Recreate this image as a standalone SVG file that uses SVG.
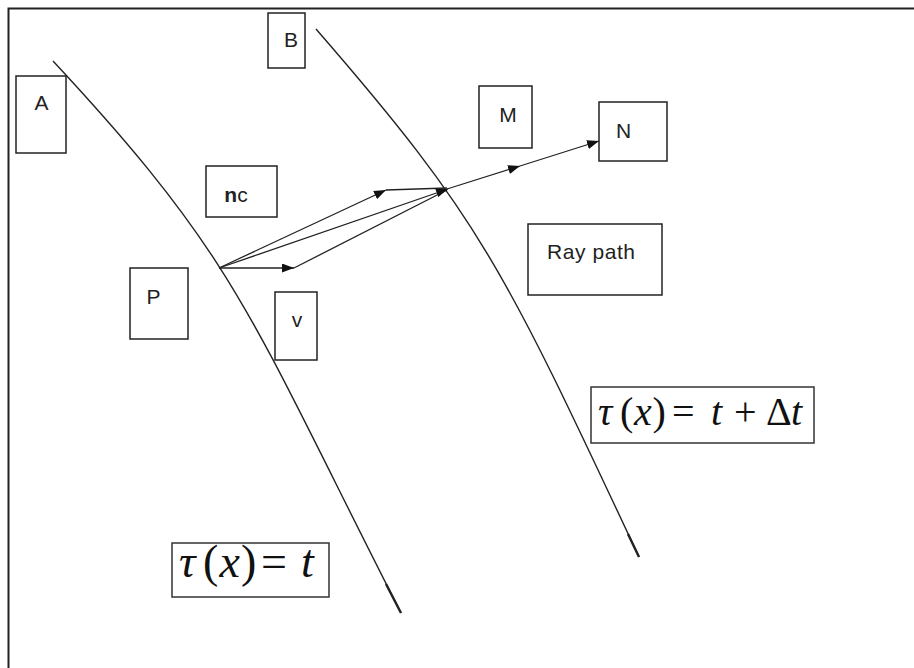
<svg xmlns="http://www.w3.org/2000/svg" width="914" height="668" viewBox="0 0 914 668">
<defs>
<style>
.box{fill:#fff;stroke:#222;stroke-width:1.5}
.lbl{font-family:"Liberation Sans",Arial,sans-serif;font-size:21px;fill:#222;text-anchor:middle}
.curve{fill:none;stroke:#222;stroke-width:1.4}
.ray{fill:none;stroke:#222;stroke-width:1.3}
.m{font-family:"Liberation Serif","Times New Roman",serif;fill:#111}
.i{font-style:italic}
</style>
<marker id="ah" viewBox="0 0 12 9" refX="12" refY="4.5" markerWidth="12" markerHeight="9" markerUnits="userSpaceOnUse" orient="auto">
<path d="M0,0 L12,4.5 L0,9 z" fill="#111"/>
</marker>
</defs>
<rect width="914" height="668" fill="#fff"/>
<path d="M8.5,668 V8.5 H914" fill="none" stroke="#222" stroke-width="2"/>

<g id="wavefronts">
<path class="curve" d="M53,61 C239,261 248,313 401,613"/>
<path d="M386,584 L401,613" fill="none" stroke="#222" stroke-width="2.4"/>
<path class="curve" d="M316,29 C481,219 503,267 639,557"/>
<path d="M628,534 L639,557" fill="none" stroke="#222" stroke-width="2.4"/>
</g>

<g id="connectors">
<path class="ray" d="M219,268 L386,190" marker-end="url(#ah)"/>
<path class="ray" d="M386,190 L447,188"/>
<path class="ray" d="M219,268 L294,268" marker-end="url(#ah)"/>
<path class="ray" d="M294,268 L447,190"/>
<path class="ray" d="M219,268 L448,189" marker-end="url(#ah)"/>
<path class="ray" d="M447,189 L520,166" marker-end="url(#ah)"/>
<path class="ray" d="M520,166 L599,141" marker-end="url(#ah)"/>
</g>

<g id="A"><rect class="box" x="16" y="76" width="50" height="77"/><text class="lbl" x="41.5" y="110">A</text></g>
<g id="B"><rect class="box" x="268" y="13" width="37" height="55"/><text class="lbl" x="291" y="47">B</text></g>
<g id="nc"><rect class="box" x="206" y="166" width="71" height="51"/><text class="lbl" x="236" y="202"><tspan font-weight="bold">n</tspan>c</text></g>
<g id="P"><rect class="box" x="130" y="268" width="58" height="71"/><text class="lbl" x="153.5" y="304">P</text></g>
<g id="v"><rect class="box" x="275" y="292" width="42" height="68"/><text class="lbl" x="297" y="327">v</text></g>
<g id="M"><rect class="box" x="479" y="86" width="53" height="62"/><text class="lbl" x="508" y="122">M</text></g>
<g id="N"><rect class="box" x="599" y="102" width="68" height="59"/><text class="lbl" x="623.5" y="138">N</text></g>
<g id="raypath"><rect class="box" x="528" y="224" width="134" height="71"/><text class="lbl" x="591" y="259" textLength="88" lengthAdjust="spacing">Ray path</text></g>

<g id="eq2">
<rect fill="#fff" stroke="#333" stroke-width="1.5" x="591" y="387" width="223" height="56"/>
<text class="m" font-size="40" y="425"><tspan class="i" x="598">τ</tspan><tspan x="620">(</tspan><tspan class="i" x="634">x</tspan><tspan x="652.5">)</tspan><tspan x="672">=</tspan><tspan class="i" x="711">t</tspan><tspan x="734">+</tspan><tspan x="766">Δ</tspan><tspan class="i" x="791">t</tspan></text>
</g>

<g id="eq1">
<rect fill="#fff" stroke="#333" stroke-width="1.5" x="172" y="543" width="157" height="54"/>
<text class="m" font-size="46" y="577"><tspan class="i" x="179">τ</tspan><tspan x="203">(</tspan><tspan class="i" x="219.5">x</tspan><tspan x="241">)</tspan><tspan x="261">=</tspan><tspan class="i" x="301">t</tspan></text>
</g>
</svg>
